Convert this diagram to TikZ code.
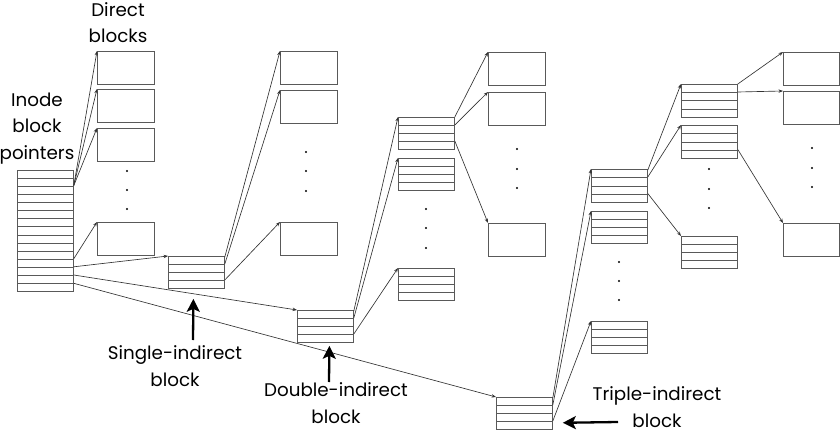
\documentclass[tikz,border=0pt]{standalone}
\usepackage{fontspec}
\setmainfont{Poppins}
\usetikzlibrary{arrows.meta,calc}
\tikzset{
  blk/.style={draw=black!65, line width=0.8pt, fill=white, inner sep=0pt, anchor=north west},
  dblk/.style={blk, minimum width=57pt, minimum height=33pt},
  rowline/.style={draw=black!65, line width=0.8pt},
  ptr/.style={draw=black!80, line width=0.65pt, -{Stealth[length=4.5pt,width=3.4pt]}},
  lbl/.style={font=\fontsize{18.3}{26.5}\selectfont, align=center, inner sep=0pt, anchor=base},
  callout/.style={draw=black, line width=2.3pt, -{Stealth[length=13pt,width=13pt,inset=3pt]}},
  dotm/.style={circle, fill=black, inner sep=0pt, minimum size=2.4pt}
}
\newcommand{\pblk}[6]{%
  \node[blk, minimum width=#4pt, minimum height=#5pt] (#1) at (#2,#3) {};
  \pgfmathtruncatemacro\nlast{#6-1}%
  \foreach \k in {1,...,\nlast}{%
    \draw[rowline] ($(#1.north west)!\k/#6!(#1.south west)$) -- ($(#1.north east)!\k/#6!(#1.south east)$);
  }%
}
\newcommand{\vdotsat}[4]{%
  \node[dotm] at (#1,#2) {};
  \node[dotm] at (#1,#3) {};
  \node[dotm] at (#1,#4) {};
}
\begin{document}
\begin{tikzpicture}[x=1pt,y=-1pt]
\useasboundingbox (0,0) rectangle (840,433);

% ---------- inode
\pblk{inode}{17}{170}{56}{121}{15}

% ---------- direct blocks
\node[dblk] (a1) at (97,51) {};
\node[dblk] (a2) at (97,89) {};
\node[dblk] (a3) at (97,128) {};
\node[dblk] (a4) at (97,222) {};
\vdotsat{127}{171}{190}{209}

% ---------- single indirect
\pblk{sgl}{168}{256}{56}{32}{4}
\node[dblk] (b1) at (280,51) {};
\node[dblk] (b2) at (280,90) {};
\node[dblk] (b3) at (280,222) {};
\vdotsat{306}{152}{171}{191}

% ---------- double indirect
\pblk{dbl}{297}{310}{56}{32}{4}
\pblk{dA}{398}{117}{56}{32}{4}
\pblk{dB}{398}{158}{56}{32}{4}
\pblk{dC}{398}{268}{56}{32}{4}
\vdotsat{426}{209}{228}{248}
\node[dblk] (c1) at (488,52) {};
\node[dblk] (c2) at (488,92) {};
\node[dblk] (c3) at (488,223) {};
\vdotsat{517}{149}{169}{188}

% ---------- triple indirect
\pblk{tpl}{496}{397}{56}{32}{4}
\pblk{tP}{591}{169}{56}{33}{4}
\pblk{tQ}{591}{211}{56}{32}{4}
\pblk{tR}{591}{321}{56}{32}{4}
\vdotsat{619}{262}{281}{300}
\pblk{tX}{681}{84}{56}{33}{4}
\pblk{tY}{681}{125}{56}{33}{4}
\pblk{tZ}{681}{236}{56}{32}{4}
\vdotsat{709}{169}{189}{208}
\node[dblk, minimum width=56pt] (e1) at (783,52) {};
\node[dblk, minimum width=56pt] (e2) at (783,91) {};
\node[dblk, minimum width=56pt] (e3) at (783,223) {};
\vdotsat{812}{148}{168}{187}

% ---------- connectors from inode
\draw[ptr] ($(inode.north east)+(0,15.5)$) -- (a1.north west);
\draw[ptr] ($(inode.north east)+(0,15.5)$) -- (a2.north west);
\draw[ptr] ($(inode.north east)+(0,15.5)$) -- (a3.north west);
\draw[ptr] ($(inode.north east)+(0,88.7)$) -- (a4.north west);
\draw[ptr] ($(inode.north east)+(0,96.8)$) -- (sgl.north west);
\draw[ptr] ($(inode.north east)+(0,105)$) -- (dbl.north west);
\draw[ptr] ($(inode.north east)+(0,113.3)$) -- (tpl.north west);

% ---------- single
\draw[ptr] ($(sgl.north east)+(0,1)$) -- (b1.north west);
\draw[ptr] ($(sgl.north east)+(0,8)$) -- (b2.north west);
\draw[ptr] ($(sgl.north east)+(0,24)$) -- (b3.north west);

% ---------- double
\draw[ptr] ($(dbl.north east)+(0,1)$) -- (dA.north west);
\draw[ptr] ($(dbl.north east)+(0,8)$) -- (dB.north west);
\draw[ptr] ($(dbl.north east)+(0,24)$) -- (dC.north west);
\draw[ptr] (dA.north east) -- (c1.north west);
\draw[ptr] ($(dA.north east)+(0,8)$) -- (c2.north west);
\draw[ptr] ($(dA.north east)+(0,24)$) -- (c3.north west);

% ---------- triple
\draw[ptr] ($(tpl.north east)+(0,1)$) -- (tP.north west);
\draw[ptr] ($(tpl.north east)+(0,8)$) -- (tQ.north west);
\draw[ptr] ($(tpl.north east)+(0,24)$) -- (tR.north west);
\draw[ptr] ($(tP.north east)+(0,1)$) -- (tX.north west);
\draw[ptr] ($(tP.north east)+(0,8)$) -- (tY.north west);
\draw[ptr] ($(tP.north east)+(0,24.5)$) -- (tZ.north west);
\draw[ptr] (tX.north east) -- (e1.north west);
\draw[ptr] ($(tX.north east)+(0,8)$) -- (e2.north west);
\draw[ptr] ($(tY.north east)+(0,24.5)$) -- (e3.north west);

% ---------- labels (anchor = baseline of last line)
\node[lbl] (ldirect) at (118,43) {Direct\\blocks};
\node[lbl] (linode) at (37,159) {Inode\\block\\pointers};
\node[lbl] (lsgl) at (175,386) {Single-indirect\\block};
\node[lbl] (ldbl) at (336,423) {Double-indirect\\block};
\node[lbl] (ltpl) at (657,427) {Triple-indirect\\block};

\coordinate (sglTail) at (193,340);
\coordinate (dblTail) at (329,382);
\coordinate (tplTail) at (618,422);
\draw[callout] (sglTail) -- ($(sgl.south)+(-3,10)$);
\draw[callout] (dblTail) -- ($(dbl.south)+(4,3)$);
\draw[callout] (tplTail) -- ($(tpl.south east)+(10,-7)$);
\end{tikzpicture}
\end{document}
